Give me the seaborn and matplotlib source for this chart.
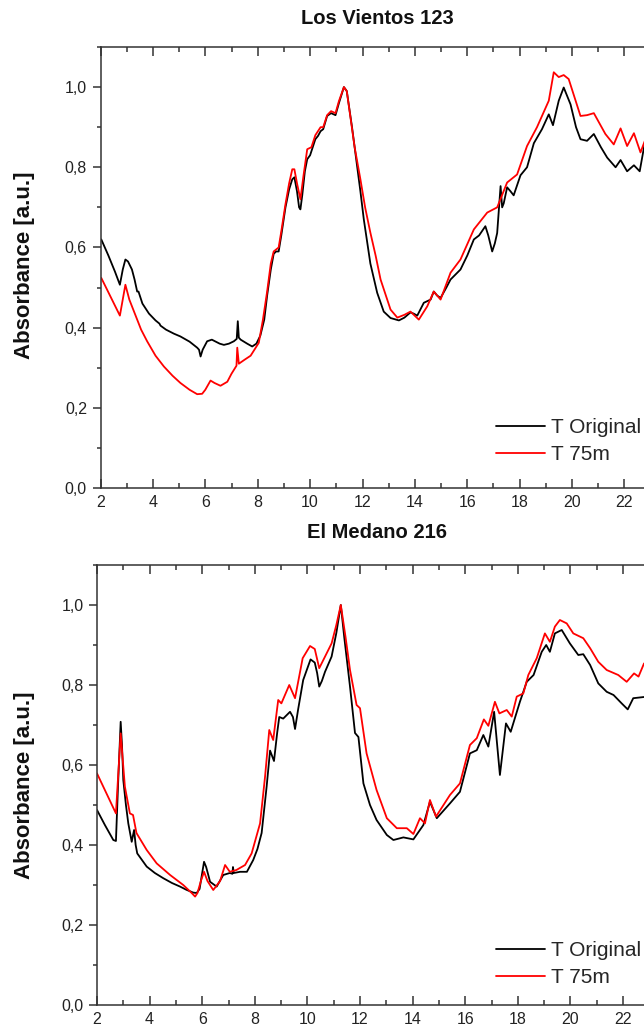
import numpy as np
import pandas as pd
import matplotlib
matplotlib.use("Agg")
import matplotlib.pyplot as plt
import seaborn as sns
from matplotlib.ticker import FixedLocator, FixedFormatter, MultipleLocator

# ---------------- data ----------------
titles = ["Los Vientos 123", "El Medano 216"]
series_names = ["T Original", "T 75m"]
x_ticks = [2, 4, 6, 8, 10, 12, 14, 16, 18, 20, 22]
x_tick_labels = ["2", "4", "6", "8", "10", "12", "14", "16", "18", "20", "22"]
x_minor_ticks = [3, 5, 7, 9, 11, 13, 15, 17, 19, 21]
y_ticks = [0.0, 0.2, 0.4, 0.6, 0.8, 1.0]
y_tick_labels = ["0,0", "0,2", "0,4", "0,6", "0,8", "1,0"]
y_label = "Absorbance [a.u.]"

lv_orig_x = [2.03, 2.3, 2.55, 2.74, 2.85, 2.95, 3.05, 3.2, 3.3, 3.4, 3.45, 3.6, 3.85, 4.1, 4.25, 4.29,
             4.5, 4.8, 5.05, 5.4, 5.69, 5.76, 5.82, 5.9, 6.07, 6.25, 6.4, 6.55, 6.71, 6.9, 7.09, 7.2,
             7.24, 7.28, 7.35, 7.6, 7.79, 7.95, 8.1, 8.25, 8.36, 8.5, 8.61, 8.7, 8.8, 8.9, 9.06, 9.2,
             9.32, 9.4, 9.5, 9.58, 9.63, 9.7, 9.8, 9.89, 10.0, 10.1, 10.2, 10.3, 10.4, 10.5, 10.65,
             10.8, 10.97, 11.1, 11.29, 11.4, 11.6, 11.8, 11.92, 12.05, 12.3, 12.56, 12.81, 13.07,
             13.39, 13.6, 13.83, 13.95, 14.09, 14.34, 14.6, 14.72, 14.85, 14.98, 15.2, 15.36, 15.74,
             16.0, 16.25, 16.45, 16.69, 16.8, 16.95, 17.05, 17.14, 17.27, 17.33, 17.39, 17.52, 17.65,
             17.77, 18.03, 18.28, 18.54, 18.85, 19.11, 19.27, 19.49, 19.68, 19.94, 20.15, 20.32,
             20.57, 20.83, 21.1, 21.34, 21.66, 21.85, 22.1, 22.36, 22.58, 22.8]
lv_orig_y = [0.62, 0.58, 0.54, 0.507, 0.545, 0.57, 0.565, 0.545, 0.52, 0.49, 0.49, 0.46, 0.435, 0.418,
             0.41, 0.405, 0.395, 0.385, 0.378, 0.365, 0.35, 0.345, 0.328, 0.345, 0.366, 0.37, 0.365,
             0.36, 0.357, 0.36, 0.366, 0.372, 0.416, 0.375, 0.37, 0.36, 0.353, 0.36, 0.38, 0.42, 0.48,
             0.545, 0.584, 0.59, 0.59, 0.63, 0.70, 0.745, 0.77, 0.775, 0.74, 0.70, 0.695, 0.73, 0.79,
             0.82, 0.83, 0.85, 0.87, 0.878, 0.89, 0.895, 0.928, 0.935, 0.93, 0.96, 1.0, 0.99, 0.90,
             0.80, 0.74, 0.67, 0.56, 0.487, 0.44, 0.424, 0.418, 0.425, 0.438, 0.435, 0.43, 0.462, 0.47,
             0.49, 0.48, 0.474, 0.50, 0.52, 0.545, 0.58, 0.62, 0.63, 0.653, 0.63, 0.59, 0.61, 0.636,
             0.753, 0.70, 0.71, 0.75, 0.74, 0.73, 0.78, 0.80, 0.86, 0.895, 0.932, 0.905, 0.966, 0.999,
             0.957, 0.90, 0.87, 0.866, 0.883, 0.85, 0.824, 0.80, 0.818, 0.79, 0.805, 0.79, 0.87]

lv_75_x = [2.03, 2.74, 2.95, 3.1, 3.34, 3.55, 3.78, 4.1, 4.42, 4.75, 5.05, 5.4, 5.69, 5.88, 6.0, 6.2,
           6.35, 6.58, 6.84, 7.0, 7.19, 7.22, 7.28, 7.5, 7.73, 8.04, 8.2, 8.36, 8.5, 8.61, 8.8, 8.9,
           9.06, 9.2, 9.32, 9.4, 9.5, 9.63, 9.75, 9.89, 10.05, 10.2, 10.4, 10.5, 10.65, 10.8, 10.97,
           11.1, 11.29, 11.4, 11.7, 11.92, 12.1, 12.3, 12.5, 12.69, 13.07, 13.33, 13.6, 13.83, 14.15,
           14.47, 14.72, 14.98, 15.36, 15.74, 16.25, 16.76, 17.14, 17.52, 17.9, 18.28, 18.66, 19.11,
           19.3, 19.49, 19.68, 19.87, 20.32, 20.57, 20.83, 21.27, 21.59, 21.85, 22.1, 22.36, 22.61, 22.8]
lv_75_y = [0.524, 0.43, 0.507, 0.47, 0.43, 0.395, 0.366, 0.33, 0.303, 0.28, 0.262, 0.245, 0.234, 0.235,
           0.245, 0.268, 0.262, 0.255, 0.265, 0.285, 0.305, 0.35, 0.31, 0.32, 0.33, 0.362, 0.42, 0.49,
           0.56, 0.59, 0.60, 0.64, 0.708, 0.76, 0.795, 0.795, 0.76, 0.72, 0.78, 0.845, 0.85, 0.88, 0.90,
           0.90, 0.93, 0.94, 0.935, 0.965, 1.0, 0.99, 0.85, 0.77, 0.70, 0.637, 0.58, 0.52, 0.445, 0.425,
           0.432, 0.44, 0.42, 0.453, 0.49, 0.47, 0.537, 0.57, 0.645, 0.687, 0.70, 0.762, 0.782, 0.853,
           0.90, 0.966, 1.037, 1.025, 1.03, 1.02, 0.928, 0.93, 0.935, 0.883, 0.857, 0.897, 0.853, 0.885,
           0.837, 0.87]

em_orig_x = [2.0, 2.3, 2.62, 2.72, 2.8, 2.9, 2.95, 3.0, 3.1, 3.19, 3.32, 3.41, 3.47, 3.53, 3.89, 4.2,
             4.52, 4.85, 5.16, 5.4, 5.66, 5.79, 5.9, 6.0, 6.07, 6.15, 6.3, 6.55, 6.8, 7.05, 7.15, 7.17,
             7.2, 7.44, 7.7, 7.94, 8.1, 8.26, 8.45, 8.58, 8.73, 8.85, 8.93, 9.08, 9.34, 9.45, 9.53, 9.65,
             9.84, 10.12, 10.28, 10.37, 10.45, 10.55, 10.67, 10.92, 11.1, 11.27, 11.4, 11.62, 11.81,
             11.94, 12.13, 12.38, 12.63, 13.02, 13.27, 13.65, 14.03, 14.41, 14.66, 14.92, 15.42, 15.8,
             16.18, 16.44, 16.69, 16.88, 17.1, 17.32, 17.55, 17.73, 18.08, 18.34, 18.6, 18.91, 19.08,
             19.22, 19.41, 19.67, 19.98, 20.3, 20.49, 20.75, 21.06, 21.38, 21.64, 21.95, 22.18, 22.39, 22.8]
em_orig_y = [0.4875, 0.45, 0.4125, 0.41, 0.55, 0.708, 0.65, 0.5625, 0.50, 0.454, 0.408, 0.4375, 0.40,
             0.379, 0.346, 0.33, 0.317, 0.305, 0.296, 0.288, 0.281, 0.28, 0.29, 0.33, 0.358, 0.345,
             0.308, 0.296, 0.325, 0.33, 0.328, 0.345, 0.33, 0.333, 0.333, 0.3625, 0.39, 0.43, 0.546,
             0.636, 0.61, 0.68, 0.72, 0.716, 0.733, 0.72, 0.69, 0.74, 0.8125, 0.864, 0.856, 0.83, 0.796,
             0.81, 0.833, 0.871, 0.93, 1.0, 0.92, 0.796, 0.68, 0.67, 0.554, 0.5, 0.4625, 0.425, 0.4125,
             0.419, 0.414, 0.45, 0.508, 0.467, 0.504, 0.533, 0.629, 0.637, 0.675, 0.646, 0.733, 0.575,
             0.704, 0.683, 0.758, 0.808, 0.825, 0.883, 0.9, 0.883, 0.929, 0.9375, 0.904, 0.875, 0.877,
             0.85, 0.804, 0.783, 0.775, 0.754, 0.739, 0.767, 0.77]

em_75_x = [2.0, 2.72, 2.9, 3.06, 3.25, 3.37, 3.5, 3.89, 4.27, 4.78, 5.28, 5.6, 5.73, 5.82, 5.95, 6.07,
           6.2, 6.42, 6.68, 6.87, 7.05, 7.3, 7.63, 7.88, 8.2, 8.39, 8.55, 8.7, 8.89, 9.01, 9.31, 9.53,
           9.82, 10.1, 10.28, 10.45, 10.67, 10.92, 11.1, 11.27, 11.45, 11.62, 11.87, 12.0, 12.25, 12.63,
           13.02, 13.4, 13.78, 14.03, 14.28, 14.47, 14.66, 14.89, 15.42, 15.8, 16.18, 16.44, 16.71,
           16.88, 17.13, 17.3, 17.58, 17.77, 17.96, 18.21, 18.4, 18.72, 19.03, 19.22, 19.41, 19.6,
           19.86, 20.11, 20.49, 20.75, 21.06, 21.38, 21.82, 22.14, 22.42, 22.59, 22.8]
em_75_y = [0.579, 0.479, 0.679, 0.546, 0.479, 0.475, 0.43, 0.3875, 0.354, 0.325, 0.3, 0.28, 0.271, 0.28,
           0.31, 0.333, 0.31, 0.2875, 0.31, 0.35, 0.333, 0.3375, 0.35, 0.379, 0.454, 0.571, 0.6875,
           0.6625, 0.7625, 0.754, 0.8, 0.767, 0.867, 0.8975, 0.89, 0.842, 0.871, 0.904, 0.95, 1.0, 0.92,
           0.8375, 0.75, 0.742, 0.629, 0.5375, 0.467, 0.442, 0.442, 0.4275, 0.467, 0.454, 0.5125, 0.471,
           0.525, 0.554, 0.65, 0.667, 0.714, 0.698, 0.758, 0.729, 0.7375, 0.721, 0.771, 0.779, 0.825,
           0.867, 0.929, 0.908, 0.946, 0.9625, 0.954, 0.929, 0.917, 0.892, 0.858, 0.8375, 0.825, 0.808,
           0.829, 0.821, 0.854]

# ---------------- style ----------------
sns.set_style("ticks")
plt.rcParams["font.family"] = ["Liberation Sans", "DejaVu Sans"]

W, H = 644, 1034
fig = plt.figure(figsize=(W / 100, H / 100), dpi=100)
palette = {"T Original": "#000000", "T 75m": "#ff0000"}
spine_col = "#333333"


def frame(x0, x1, y0, y1):
    return pd.DataFrame({
        "Wavelength": list(x0) + list(x1),
        "Absorbance": list(y0) + list(y1),
        "Series": [series_names[0]] * len(x0) + [series_names[1]] * len(x1),
    })


panels = [
    dict(df=frame(lv_orig_x, lv_75_x, lv_orig_y, lv_75_y), left=100.5, top=47, bottom=488, ppu=26.2,
         title_y=18, leg_top=418, ylab_y=265),
    dict(df=frame(em_orig_x, em_75_x, em_orig_y, em_75_y), left=97, top=565, bottom=1005, ppu=26.3,
         title_y=533, leg_top=941, ylab_y=785),
]

for i, p in enumerate(panels):
    xmax = 26
    ax = fig.add_axes([p["left"] / W, (H - p["bottom"]) / H,
                       (xmax - 2) * p["ppu"] / W, (p["bottom"] - p["top"]) / H])
    sns.lineplot(data=p["df"], x="Wavelength", y="Absorbance", hue="Series",
                 hue_order=series_names, palette=palette, estimator=None, sort=False,
                 linewidth=1.3, ax=ax, legend=True)
    ax.set_xlim(2, xmax)
    ax.set_ylim(0, 1.1)
    ax.set_xlabel("")
    ax.set_ylabel("")
    ax.xaxis.set_major_locator(FixedLocator(x_ticks))
    ax.xaxis.set_major_formatter(FixedFormatter(x_tick_labels))
    ax.xaxis.set_minor_locator(FixedLocator(x_minor_ticks))
    ax.yaxis.set_major_locator(FixedLocator(y_ticks))
    ax.yaxis.set_major_formatter(FixedFormatter(y_tick_labels))
    ax.yaxis.set_minor_locator(MultipleLocator(0.1))
    ax.tick_params(axis="x", which="both", direction="in", top=True, bottom=True,
                   color=spine_col, width=1.1, labelsize=11.5, labelcolor="#222222", pad=5)
    ax.tick_params(axis="x", which="major", length=6.5)
    ax.tick_params(axis="x", which="minor", length=3.5)
    ax.tick_params(axis="y", which="both", direction="out", left=True, right=False,
                   color=spine_col, width=1.1, labelsize=11.5, labelcolor="#222222", pad=4)
    ax.tick_params(axis="y", which="major", length=5.8)
    ax.tick_params(axis="y", which="minor", length=3)
    for s in ["left", "bottom", "top"]:
        ax.spines[s].set_visible(True)
        ax.spines[s].set_color(spine_col)
        ax.spines[s].set_linewidth(1.1)
    ax.spines["right"].set_visible(False)

    handles, labels = ax.get_legend_handles_labels()
    for h in handles:
        h.set_linewidth(1.3)
    ax.legend(handles, labels, loc="upper left",
              bbox_to_anchor=(496 / W, 1 - p["leg_top"] / H), bbox_transform=fig.transFigure,
              frameon=False, fontsize=15, handlelength=2.35, handletextpad=0.3,
              borderpad=0, borderaxespad=0, labelspacing=0.38)

    fig.text(377 / W, 1 - p["title_y"] / H, titles[i], ha="center", va="center",
             fontsize=14.5, fontweight="bold", color="#111111")
    fig.text(25 / W, 1 - p["ylab_y"] / H, y_label, ha="center", va="center", rotation=90,
             fontsize=16, fontweight="bold", color="#111111")

fig.savefig("out.png", dpi=100)
